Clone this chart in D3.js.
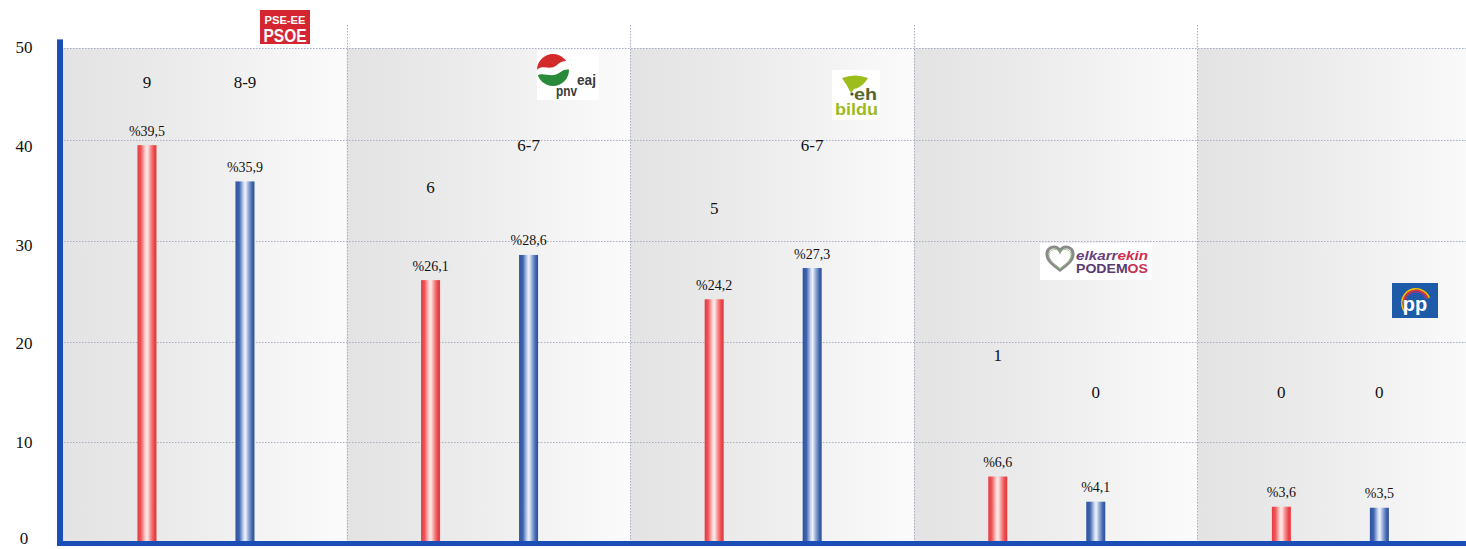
<!DOCTYPE html>
<html><head><meta charset="utf-8">
<script src="https://cdn.jsdelivr.net/npm/d3@7"></script>
<style>html,body{margin:0;padding:0;background:#fff;overflow:hidden}
.serif{font-family:"Liberation Serif","Times New Roman",Tinos,"DejaVu Serif","Noto Serif",serif;}
</style>
</head><body><svg id="c" width="1466" height="549"></svg>
<script>
// ---- data ----
const parties = ["PSE-EE", "EAJ-PNV", "EH Bildu", "Elkarrekin Podemos", "PP"];
const series = ["2016", "Encuesta"];
const vote2016 = [39.5, 26.1, 24.2, 6.6, 3.6];
const votePoll = [35.9, 28.6, 27.3, 4.1, 3.5];
const seats2016 = ["9", "6", "5", "1", "0"];
const seatsPoll = ["8-9", "6-7", "6-7", "0", "0"];
const seatLevel2016 = [45.8, 35.3, 33.3, 18.7, 15.0];
const seatLevelPoll = [45.8, 39.5, 39.5, 15.0, 15.0];
const yTicks = [0, 10, 20, 30, 40, 50];
const gridTicks = [10, 20, 30, 40];

const fmt = v => "%" + String(v).replace(".", ",");

const svg = d3.select("#c");
const W = 1466, H = 549;
const panelTop = 48, axisColor = "#1a4db5";

const x0 = d3.scaleBand().domain(parties).range([63, 1481]).padding(0);
const x1 = d3.scaleBand().domain(series).range([0, x0.bandwidth()])
  .paddingInner(0.806).paddingOuter(0.85).align(0.447);
const y = d3.scaleLinear().domain([0, 50]).range([543, 39.4]);
const yText = d3.scaleLinear().domain([0, 50]).range([541, 47]);

const defs = svg.append("defs");
const pg = defs.append("linearGradient").attr("id", "panelG").attr("x1", 0).attr("x2", 1).attr("y1", 0).attr("y2", 0);
[[0, "#e3e3e3"], [0.35, "#eaeaea"], [0.7, "#f3f3f4"], [1, "#fbfbfb"]].forEach(s => pg.append("stop").attr("offset", s[0]).attr("stop-color", s[1]));
const rg = defs.append("linearGradient").attr("id", "redG").attr("x1", 0).attr("x2", 1).attr("y1", 0).attr("y2", 0);
[[0, "#e53a40"], [0.18, "#ee5458"], [0.42, "#fbd6d4"], [0.52, "#fde9e6"], [0.7, "#f58a8b"], [0.88, "#ea4448"], [1, "#e33a3f"]].forEach(s => rg.append("stop").attr("offset", s[0]).attr("stop-color", s[1]));
const bg = defs.append("linearGradient").attr("id", "blueG").attr("x1", 0).attr("x2", 1).attr("y1", 0).attr("y2", 0);
[[0, "#2e54a0"], [0.2, "#3f64ae"], [0.42, "#c7d5ee"], [0.52, "#eef3fc"], [0.7, "#8ea6d4"], [0.88, "#3e62ac"], [1, "#2d529c"]].forEach(s => bg.append("stop").attr("offset", s[0]).attr("stop-color", s[1]));

// panels
svg.append("g").selectAll("rect").data(parties).join("rect")
  .attr("x", d => x0(d)).attr("y", panelTop)
  .attr("width", x0.bandwidth()).attr("height", y(0) - panelTop)
  .attr("fill", "url(#panelG)");

// gridlines
const grid = svg.append("g").attr("stroke", "#a4afc2").attr("stroke-width", 1).attr("stroke-dasharray", "1.5,1.5");
grid.selectAll("line.h").data(gridTicks).join("line").attr("class", "h")
  .attr("x1", 64).attr("x2", W).attr("y1", d => Math.round(y(d)) + 0.5).attr("y2", d => Math.round(y(d)) + 0.5);
grid.append("line").attr("x1", 64).attr("x2", W).attr("y1", panelTop + 0.5).attr("y2", panelTop + 0.5);
grid.selectAll("line.v").data(parties.slice(1)).join("line").attr("class", "v")
  .attr("x1", d => Math.round(x0(d)) + 0.5).attr("x2", d => Math.round(x0(d)) + 0.5)
  .attr("y1", 25).attr("y2", y(0));

// bars
const rows = parties.map((p, i) => ({p, i}));
const gBars = svg.append("g");
function drawSeries(vals, key, grad) {
  gBars.selectAll("rect." + grad).data(rows).join("rect").attr("class", grad)
    .attr("x", d => x0(d.p) + x1(key)).attr("width", x1.bandwidth())
    .attr("y", d => y(vals[d.i])).attr("height", d => y(0) - y(vals[d.i]))
    .attr("fill", "url(#" + grad + ")");
  gBars.selectAll("text.l" + grad).data(rows).join("text").attr("class", "serif l" + grad)
    .attr("x", d => x0(d.p) + x1(key) + x1.bandwidth() / 2)
    .attr("y", d => y(vals[d.i]) - 9.5)
    .attr("text-anchor", "middle")
    .attr("font-size", 14).attr("fill", "#111").text(d => fmt(vals[d.i]));
}
drawSeries(vote2016, "2016", "redG");
drawSeries(votePoll, "Encuesta", "blueG");

// seat labels
function drawSeats(labels, levels, key) {
  svg.append("g").selectAll("text").data(rows).join("text").attr("class", "serif")
    .attr("x", d => x0(d.p) + x1(key) + x1.bandwidth() / 2)
    .attr("y", d => y(levels[d.i]) + 6)
    .attr("text-anchor", "middle")
    .attr("font-size", 17).attr("fill", "#111").text(d => labels[d.i]);
}
drawSeats(seats2016, seatLevel2016, "2016");
drawSeats(seatsPoll, seatLevelPoll, "Encuesta");

// axes
svg.append("rect").attr("x", 57).attr("y", y(50)).attr("width", 6).attr("height", 546 - y(50)).attr("fill", axisColor);
svg.append("rect").attr("x", 57).attr("y", 541).attr("width", W - 57).attr("height", 5).attr("fill", axisColor);
svg.append("g").selectAll("text").data(yTicks).join("text").attr("class", "serif")
  .attr("x", 24).attr("y", d => Math.min(yText(d) + 6, 544))
  .attr("text-anchor", "middle")
  .attr("font-size", 17).attr("fill", "#111").text(d => d);

// ---- logos ----
const sansB = "'Liberation Sans', Arial, sans-serif";
const narrow = "'Liberation Sans Narrow', 'Liberation Sans', Arial, sans-serif";
// PSOE
{
  const g = svg.append("g").attr("transform", "translate(260,10)");
  g.append("rect").attr("width", 50).attr("height", 34).attr("fill", "#d52530");
  g.append("text").attr("x", 25).attr("y", 14).attr("text-anchor", "middle").attr("font-family", narrow)
    .attr("font-weight", "bold").attr("font-size", 11).attr("fill", "#fff")
    .attr("textLength", 41).attr("lengthAdjust", "spacingAndGlyphs").text("PSE-EE");
  g.append("text").attr("x", 25).attr("y", 32).attr("text-anchor", "middle").attr("font-family", narrow)
    .attr("font-weight", "bold").attr("font-size", 18).attr("fill", "#fff")
    .attr("textLength", 43).attr("lengthAdjust", "spacingAndGlyphs").text("PSOE");
}
// PNV
{
  const g = svg.append("g").attr("transform", "translate(537,50)");
  g.append("rect").attr("width", 62).attr("height", 50).attr("fill", "#fff");
  const cp = defs.append("clipPath").attr("id", "pnvc");
  cp.append("circle").attr("cx", 16).attr("cy", 20).attr("r", 16);
  const c = g.append("g").attr("clip-path", "url(#pnvc)");
  c.append("path").attr("d", "M-2,22 C5,12 12,22 20,15 C24,11 29,10 34,12 L34,-2 L-2,-2 Z").attr("fill", "#d32a2c");
  c.append("path").attr("d", "M-2,27 C6,20 13,29 22,23 C27,19 30,19 34,20 L34,40 L-2,40 Z").attr("fill", "#2a8a3c");
  g.append("text").attr("x", 40).attr("y", 35).attr("font-family", sansB).attr("font-weight", "bold")
    .attr("font-size", 14).attr("fill", "#3a3a3a").attr("textLength", 19).attr("lengthAdjust", "spacingAndGlyphs").text("eaj");
  g.append("text").attr("x", 19).attr("y", 46).attr("font-family", sansB).attr("font-weight", "bold")
    .attr("font-size", 14).attr("fill", "#3a3a3a").attr("textLength", 21).attr("lengthAdjust", "spacingAndGlyphs").text("pnv");
}
// EH Bildu
{
  const g = svg.append("g").attr("transform", "translate(832,70)");
  g.append("rect").attr("width", 48).attr("height", 50).attr("fill", "#fff");
  g.append("path").attr("d", "M10,8 Q23,3 36,8 Q31,17 22,19 L19,23 Q15,15 10,8 Z").attr("fill", "#9bbe1c");
  g.append("circle").attr("cx", 20).attr("cy", 24).attr("r", 1.6).attr("fill", "#3e4a1e");
  g.append("text").attr("x", 22).attr("y", 30).attr("font-family", sansB).attr("font-weight", "bold")
    .attr("font-size", 16).attr("fill", "#56652a").attr("textLength", 23).attr("lengthAdjust", "spacingAndGlyphs").text("eh");
  g.append("text").attr("x", 3).attr("y", 45).attr("font-family", sansB).attr("font-weight", "bold")
    .attr("font-size", 16).attr("fill", "#9bbb1e").attr("textLength", 43).attr("lengthAdjust", "spacingAndGlyphs").text("bildu");
}
// Elkarrekin Podemos
{
  const g = svg.append("g").attr("transform", "translate(1040,243)");
  g.append("rect").attr("width", 112).attr("height", 37).attr("fill", "#fff");
  const heart = "M20,27 C12,21 7,17 7,11 C7,6 11,4 14,4 C17,4 19,6 20,8 C21,6 23,4 26,4 C29,4 33,6 33,11 C33,17 28,21 20,27 Z";
  g.append("path").attr("d", heart).attr("fill", "none").attr("stroke", "#8a8a8a").attr("stroke-width", 3.2);
  g.append("path").attr("d", heart).attr("fill", "none").attr("stroke", "#8fbf7a").attr("stroke-width", 1).attr("transform", "translate(3,3) scale(0.85)");
  const t1 = g.append("text").attr("x", 36).attr("y", 17).attr("font-family", sansB).attr("font-weight", "bold")
    .attr("font-style", "italic").attr("font-size", 13).attr("textLength", 72).attr("lengthAdjust", "spacingAndGlyphs");
  t1.append("tspan").attr("fill", "#6b3f7e").text("elkarr");
  t1.append("tspan").attr("fill", "#d22c4e").text("ekin");
  const t2 = g.append("text").attr("x", 36).attr("y", 30).attr("font-family", sansB).attr("font-weight", "bold")
    .attr("font-size", 13).attr("textLength", 72).attr("lengthAdjust", "spacingAndGlyphs");
  t2.append("tspan").attr("fill", "#5b3a70").text("PODEM");
  t2.append("tspan").attr("fill", "#c8304f").text("OS");
}
// PP
{
  const g = svg.append("g").attr("transform", "translate(1392,283)");
  g.append("rect").attr("width", 46).attr("height", 35).attr("fill", "#1d5aa7");
  const arc = (r, col) => g.append("path")
    .attr("d", d3.arc()({innerRadius: r - 1.6, outerRadius: r, startAngle: -2.2, endAngle: 1.2}))
    .attr("transform", "translate(24,20)").attr("fill", col);
  arc(15, "#f5c400"); arc(13.4, "#e8352b"); arc(11.8, "#7b3f94");
  g.append("text").attr("x", 23).attr("y", 28).attr("text-anchor", "middle").attr("font-family", sansB)
    .attr("font-weight", "bold").attr("font-size", 20).attr("fill", "#fff").text("pp");
}
</script></body></html>
